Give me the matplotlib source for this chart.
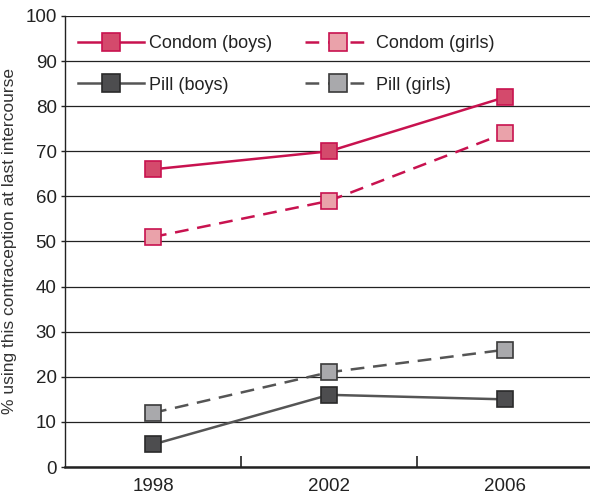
import matplotlib
matplotlib.use('Agg')
import matplotlib.pyplot as plt

plt.rcParams['font.family'] = ['Liberation Sans', 'DejaVu Sans']

years = ['1998', '2002', '2006']
condom_boys = [66, 70, 82]
condom_girls = [51, 59, 74]
pill_boys = [5, 16, 15]
pill_girls = [12, 21, 26]

crimson = '#c8124f'
grey_line = '#555555'

fig = plt.figure(figsize=(5.9, 4.98), dpi=100)
ax = fig.add_axes([65/590, 31/498, 528/590, 451/498])

xpos = [i + 0.5 for i in range(len(years))]

ax.plot(xpos, condom_boys, color=crimson, lw=1.8, marker='s', ms=11.5,
        mfc='#d44a6c', mec=crimson, mew=1.2, label='Condom (boys)', zorder=4)
ax.plot(xpos, pill_boys, color=grey_line, lw=1.8, marker='s', ms=11.5,
        mfc='#4d4d4f', mec='#2a2a2a', mew=1.2, label='Pill (boys)', zorder=4)
ax.plot(xpos, condom_girls, color=crimson, lw=1.8, ls=(0, (5.5, 3.5)), marker='s', ms=11.5,
        mfc='#eaa2aa', mec=crimson, mew=1.2, label='Condom (girls)', zorder=4)
ax.plot(xpos, pill_girls, color=grey_line, lw=1.8, ls=(0, (5.5, 3.5)), marker='s', ms=11.5,
        mfc='#a9a9ac', mec='#3a3a3a', mew=1.2, label='Pill (girls)', zorder=4)

ax.set_xlim(0, 3)
ax.set_ylim(0, 100)
ax.set_yticks(range(0, 101, 10))
ax.set_xticks(xpos)
ax.set_xticklabels(years)
ax.set_xticks([1, 2], minor=True)
ax.tick_params(axis='x', which='major', length=0, labelsize=13.5, pad=8, colors='#222222')
ax.tick_params(axis='x', which='minor', length=8, direction='in', width=1.2, color='#222222')
ax.tick_params(axis='y', length=3, width=1, labelsize=13.5, pad=3, colors='#222222')

ax.yaxis.grid(True, color='#222222', lw=0.9)
ax.set_axisbelow(True)
for s in ['top', 'right']:
    ax.spines[s].set_visible(False)
ax.spines['left'].set_color('#222222')
ax.spines['left'].set_linewidth(1.0)
ax.spines['bottom'].set_color('#222222')
ax.spines['bottom'].set_linewidth(1.8)

ax.set_ylabel('% using this contraception at last intercourse', fontsize=12.5,
              color='#333333', labelpad=6)

leg = ax.legend(loc='upper left', bbox_to_anchor=(0.0, 0.985), ncol=2, frameon=False,
                fontsize=13, handlelength=3.65, handletextpad=0.3, labelspacing=1.35,
                columnspacing=1.8, borderaxespad=0.3, markerscale=1.1)
for t in leg.get_texts():
    t.set_color('#222222')

fig.savefig('out.png', dpi=100)
